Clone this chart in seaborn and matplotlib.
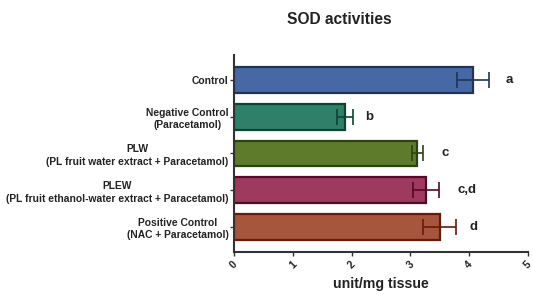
import matplotlib
matplotlib.use("Agg")
import matplotlib.pyplot as plt
import seaborn as sns
import pandas as pd

categories = ["Control",
              "Negative Control\n(Paracetamol)",
              "PLW\n(PL fruit water extract + Paracetamol)",
              "PLEW\n(PL fruit ethanol-water extract + Paracetamol)",
              "Positive Control\n(NAC + Paracetamol)"]
means = [4.07, 1.89, 3.12, 3.26, 3.50]
errors = [0.27, 0.14, 0.10, 0.22, 0.28]
letters = ["a", "b", "c", "c,d", "d"]
letter_x = [4.68, 2.30, 3.59, 3.96, 4.08]
xticks = [0, 1, 2, 3, 4, 5]

fills = ["#4669A5", "#2E8068", "#5E7B2C", "#9E3A5E", "#A6563C"]
edges = ["#203458", "#0B4430", "#2A4410", "#55082A", "#6A1A08"]

sns.set_theme(style="white")
plt.rcParams['font.family'] = ['Liberation Sans', 'DejaVu Sans']

df = pd.DataFrame({"group": categories, "value": means})

fig = plt.figure(figsize=(5.33, 2.96), dpi=100)
ax = fig.add_axes([0.439, 0.149, 0.5516, 0.665])

sns.barplot(data=df, y="group", x="value", hue="group", palette=fills,
            orient="h", width=0.7, legend=False, ax=ax, saturation=1)

for i, p in enumerate(ax.patches):
    p.set_edgecolor(edges[i])
    p.set_linewidth(1.6)

for i in range(len(categories)):
    ax.errorbar(means[i], i, xerr=errors[i], fmt="none", ecolor=edges[i],
                elinewidth=1.2, capsize=6, capthick=1.2, zorder=5)
    ax.text(letter_x[i], i, letters[i], ha="center", va="center",
            fontsize=9.5, fontweight="bold", color="#222222")

ax.set_xlim(0, 5)
ax.set_ylim(4.68, -0.68)
ax.set_xticks(xticks)
ax.set_xticklabels([str(t) for t in xticks], rotation=45, ha="center",
                   va="top", fontsize=7.5, fontweight="bold", color="#222222")
ax.tick_params(axis="y", labelsize=7.4, length=3, width=1, color="#333333",
               left=True, pad=1)
ax.tick_params(axis="x", length=3, width=1, color="#333333", bottom=True, pad=2)
for lab in ax.get_yticklabels():
    lab.set_fontweight("bold")
    lab.set_color("#222222")
    lab.set_multialignment("center")
    lab.set_linespacing(1.3)

ax.set_ylabel("")
ax.set_xlabel("unit/mg tissue", fontsize=10.2, fontweight="bold", color="#222222",
              labelpad=5)
fig.text(339 / 533, 1 - 20 / 296, "SOD activities", ha="center", va="center",
         fontsize=11.2, fontweight="bold", color="#222222")

for s in ["top", "right"]:
    ax.spines[s].set_visible(False)
for s in ["left", "bottom"]:
    ax.spines[s].set_color("#333333")
    ax.spines[s].set_linewidth(1.5)

fig.savefig("out.png", dpi=100)
